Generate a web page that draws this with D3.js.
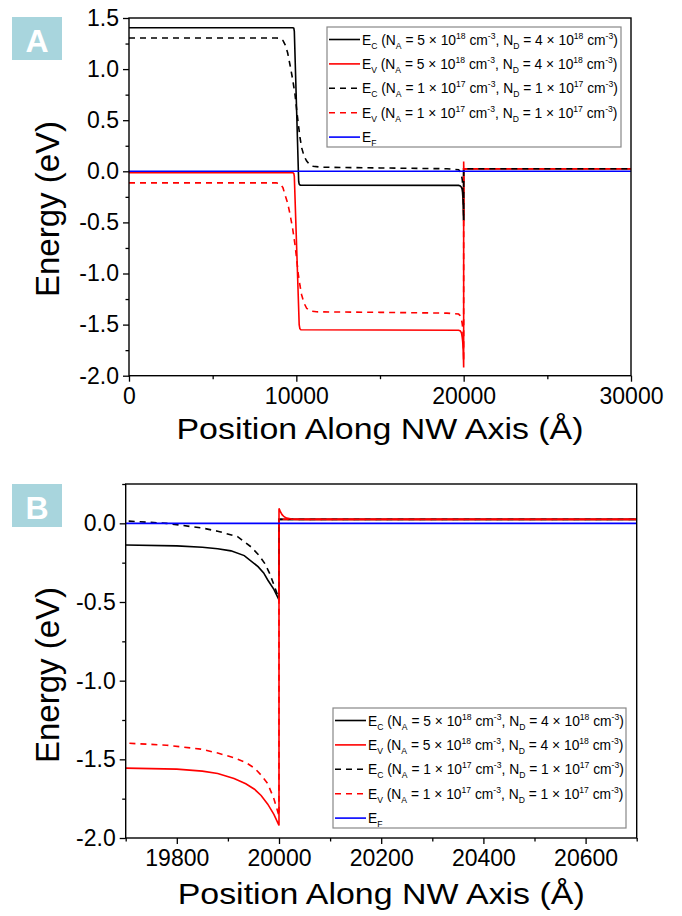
<!DOCTYPE html>
<html><head><meta charset="utf-8">
<script src="https://cdn.jsdelivr.net/npm/d3@7"></script>
<style>
body{margin:0;background:#fff}
svg text{font-family:Arial,"Liberation Sans",Helvetica,sans-serif}
</style></head>
<body><svg id="chart" width="682" height="916"></svg>
<script>
// ---------- DATA ----------
const xTicksA=[0,10000,20000,30000];
const xMinorA=[5000,15000,25000];
const yTicksA=[-2,-1.5,-1,-0.5,0,0.5,1,1.5];
const yMinorA=[-1.75,-1.25,-0.75,-0.25,0.25,0.75,1.25];
const xTicksB=[19800,20000,20200,20400,20600];
const xMinorB=[19700,19900,20100,20300,20500,20700];
const yTicksB=[-2,-1.5,-1,-0.5,0];
const yMinorB=[-1.75,-1.25,-0.75,-0.25,0.25];

// Ec, heavy doping (NA=5e18, ND=4e18)
const ecHeavy=[[0,1.405],[9800,1.405],[9850,1.40],[9880,1.37],[10140,-0.10],[10170,-0.125],[10230,-0.135],
 [19700,-0.138],[19800,-0.143],[19850,-0.152],[19880,-0.162],[19906,-0.175],[19932,-0.205],[19959,-0.275],
 [19970,-0.315],[19978,-0.36],[19990,-0.42],[20000,-0.487],[20000,0.025],[30000,0.025]];
// Ev, heavy doping
const evHeavy=[[0,-0.014],[9800,-0.014],[9850,-0.02],[9880,-0.05],[10170,-1.50],[10210,-1.54],[10270,-1.55],
 [19700,-1.556],[19800,-1.562],[19850,-1.575],[19880,-1.59],[19912,-1.622],[19935,-1.655],[19952,-1.69],
 [19965,-1.73],[19978,-1.785],[19990,-1.85],[20000,-1.92],[20000,0.095],[20003,0.072],[20006,0.055],
 [20010,0.042],[20015,0.033],[20025,0.027],[20050,0.025],[30000,0.025]];
// Ec, light doping (NA=ND=1e17)
const ecLight=[[0,1.305],[8800,1.305],[9025,1.30],[9200,1.28],[9325,1.24],[9480,1.16],[9623,1.04],[9780,0.90],
 [9922,0.75],[10020,0.60],[10120,0.46],[10220,0.33],[10319,0.23],[10460,0.15],[10618,0.10],[10800,0.065],
 [11000,0.05],[11500,0.04],[15000,0.033],[19000,0.025],[19700,0.015],[19780,0.0],[19850,-0.03],[19880,-0.05],
 [19919,-0.085],[19945,-0.149],[19960,-0.2],[19972,-0.254],[19982,-0.32],[19991,-0.40],[20000,-0.48],
 [20000,0.025],[30000,0.025]];
// Ev, light doping
const evLight=[[0,-0.113],[8800,-0.113],[9025,-0.12],[9200,-0.16],[9325,-0.23],[9480,-0.31],[9623,-0.42],
 [9780,-0.56],[9922,-0.72],[10020,-0.86],[10120,-1.01],[10220,-1.12],[10319,-1.21],[10460,-1.29],[10618,-1.34],
 [10800,-1.365],[11200,-1.375],[15000,-1.38],[19000,-1.388],[19700,-1.397],[19780,-1.41],[19847,-1.435],
 [19880,-1.46],[19912,-1.49],[19935,-1.52],[19952,-1.556],[19965,-1.6],[19978,-1.655],[19990,-1.75],
 [20000,-1.86],[20000,0.025],[30000,0.025]];
// Fermi level
const eFermi=[[0,0],[30000,0]];

// legend labels
const legendBand=["C","V","C","V","F"];
const legendNA=["5","5","1","1",null];
const legendNAexp=["18","18","17","17",null];
const legendND=["4","4","1","1",null];
const legendNDexp=["18","18","17","17",null];

const seriesData=[ecHeavy,evHeavy,ecLight,evLight,eFermi];
// ---------- STYLE ----------
const seriesStyle=[
 {color:"#000000",dash:null},
 {color:"#ff0000",dash:null},
 {color:"#000000",dash:"6,5"},
 {color:"#ff0000",dash:"6,5"},
 {color:"#0000ff",dash:null}];

const panels=[
 {id:"A",x0:129,x1:631,y0:18,y1:375.7,xd:[0,30000],yd:[-2,1.5],xt:xTicksA,xm:xMinorA,yt:yTicksA,ym:yMinorA,
  order:[0,1,3,2,4],leg:{x:327,y:27,w:294,h:120},tagY:17,xTitleY:438.5,yTitleY:209},
 {id:"B",x0:125.7,x1:636.7,y0:484,y1:838,xd:[19700,20700],yd:[-2,0.25],xt:xTicksB,xm:xMinorB,yt:yTicksB,ym:yMinorB,
  order:[0,2,3,1,4],leg:{x:333,y:708,w:293,h:120},tagY:484,xTitleY:904,yTitleY:675}
];

const svg=d3.select("#chart");
svg.append("rect").attr("width",682).attr("height",916).attr("fill","#fff");
const fmtY=v=>d3.format(".1f")(v).replace("\u2212","-");

panels.forEach(p=>{
 const x=d3.scaleLinear().domain(p.xd).range([p.x0,p.x1]);
 const y=d3.scaleLinear().domain(p.yd).range([p.y1,p.y0]);
 const g=svg.append("g");
 const clipId="clip"+p.id;
 svg.append("defs").append("clipPath").attr("id",clipId).append("rect")
   .attr("x",p.x0).attr("y",p.y0).attr("width",p.x1-p.x0).attr("height",p.y1-p.y0);

 // tag box
 g.append("rect").attr("x",12).attr("y",p.tagY).attr("width",50).attr("height",43).attr("fill","#a8d5dd");
 g.append("text").attr("x",37).attr("y",p.tagY+35).attr("text-anchor","middle").attr("fill","#fff")
   .attr("font-size",32).attr("font-weight","bold").text(p.id);

 // lines
 const line=d3.line().x(d=>x(d[0])).y(d=>y(d[1]));
 const lg=g.append("g").attr("clip-path","url(#"+clipId+")");
 p.order.forEach(i=>{
   lg.append("path").attr("d",line(seriesData[i])).attr("fill","none")
     .attr("stroke",seriesStyle[i].color).attr("stroke-width",1.6)
     .attr("stroke-dasharray",seriesStyle[i].dash);
 });

 // axes
 const ax=g.append("g").attr("transform",`translate(0,${p.y1})`)
   .call(d3.axisBottom(x).tickValues(p.xt).tickFormat(d3.format("d")).tickSize(6).tickPadding(6));
 const axm=g.append("g").attr("transform",`translate(0,${p.y1})`)
   .call(d3.axisBottom(x).tickValues(p.xm).tickFormat("").tickSize(3.5));
 const ay=g.append("g").attr("transform",`translate(${p.x0},0)`)
   .call(d3.axisLeft(y).tickValues(p.yt).tickFormat(fmtY).tickSize(6).tickPadding(4));
 const aym=g.append("g").attr("transform",`translate(${p.x0},0)`)
   .call(d3.axisLeft(y).tickValues(p.ym).tickFormat("").tickSize(3.5));
 [ax,axm,ay,aym].forEach(a=>{
   a.select(".domain").remove();
   a.selectAll("line").attr("stroke","#000").attr("stroke-width",1.3);
   a.selectAll("text").attr("font-size",23).attr("fill","#000").attr("font-family","Arial, 'Liberation Sans', sans-serif");
 });

 // frame
 g.append("rect").attr("x",p.x0).attr("y",p.y0).attr("width",p.x1-p.x0).attr("height",p.y1-p.y0)
   .attr("fill","none").attr("stroke","#000").attr("stroke-width",1.4);

 // axis titles
 g.append("text").attr("x",(p.x0+p.x1)/2).attr("y",p.xTitleY).attr("text-anchor","middle")
   .attr("font-size",30).attr("textLength",407).attr("lengthAdjust","spacingAndGlyphs")
   .text("Position Along NW Axis (Å)");
 g.append("text").attr("transform",`translate(59,${p.yTitleY}) rotate(-90)`).attr("text-anchor","middle")
   .attr("font-size",33).text("Energy (eV)");

 // legend
 const L=p.leg;
 const lgd=g.append("g");
 lgd.append("rect").attr("x",L.x).attr("y",L.y).attr("width",L.w).attr("height",L.h)
   .attr("fill","#fff").attr("stroke","#888").attr("stroke-width",1.2);
 const fs=13.8, ss=8.6;
 [0,1,2,3,4].forEach((i,k)=>{
   const ry=L.y+12.5+k*24.4;
   lgd.append("line").attr("x1",L.x+2).attr("x2",L.x+33).attr("y1",ry).attr("y2",ry)
     .attr("stroke",seriesStyle[i].color).attr("stroke-width",1.6).attr("stroke-dasharray",seriesStyle[i].dash);
   const t=lgd.append("text").attr("x",L.x+35).attr("y",ry+5).attr("font-size",fs).attr("fill","#000");
   let cur=0; // current baseline offset
   const seg=(s,off,size)=>{
     t.append("tspan").attr("font-size",size).attr("dy",off-cur).text(s); cur=off;
   };
   const txt=s=>seg(s,0,fs), sub=s=>seg(s,4,ss), sup=s=>seg(s,-6,ss);
   txt("E"); sub(legendBand[i]);
   if(legendNA[i]!==null){
     txt("\u00a0(N"); sub("A"); txt("\u00a0=\u00a0"+legendNA[i]+"\u00a0×\u00a010"); sup(legendNAexp[i]);
     txt("\u00a0cm"); sup("-3"); txt(",\u00a0N"); sub("D");
     txt("\u00a0=\u00a0"+legendND[i]+"\u00a0×\u00a010"); sup(legendNDexp[i]); txt("\u00a0cm"); sup("-3"); txt(")");
   }
 });
});
</script></body></html>
